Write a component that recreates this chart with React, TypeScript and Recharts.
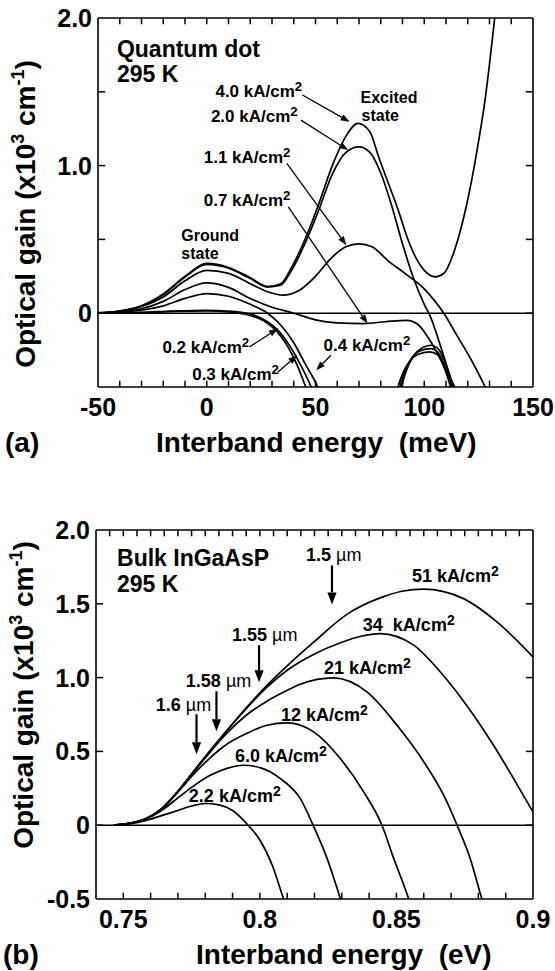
import React from 'react'
import { LineChart, Line, XAxis, YAxis, ReferenceLine, ReferenceDot } from 'recharts'

type Pt = [number, number]

// (a) quantum dot, interband energy in meV, gain in 10^3 cm^-1
const qd40: Pt[] = [[-50, 0.003], [-40, 0.015], [-30, 0.05], [-20, 0.13], [-10, 0.25], [0, 0.337], [10, 0.31], [20, 0.24], [28, 0.18], [34, 0.2], [39, 0.31], [46, 0.53], [51, 0.72], [58, 1.01], [64, 1.2], [69.5, 1.286], [75, 1.23], [79, 1.06], [84, 0.86], [88, 0.7], [92, 0.52], [96, 0.38], [100, 0.29], [105, 0.246], [109, 0.27], [114, 0.43], [120, 0.77], [124, 1.08], [128, 1.45], [132.4, 2.0], [135, 2.35]]
const qd20: Pt[] = [[-50, 0.003], [-40, 0.015], [-30, 0.048], [-20, 0.125], [-10, 0.245], [0, 0.33], [10, 0.305], [20, 0.235], [28, 0.178], [34, 0.19], [39, 0.29], [46, 0.5], [51, 0.68], [58, 0.95], [64, 1.09], [70, 1.127], [75, 1.09], [80, 0.95], [85, 0.73], [90, 0.47], [95, 0.24], [100, 0.06], [103, -0.03], [107, -0.2], [110, -0.34], [113.5, -0.5], [116, -0.62]]
const qd11: Pt[] = [[-50, 0.003], [-40, 0.013], [-30, 0.045], [-20, 0.11], [-10, 0.22], [0, 0.29], [10, 0.27], [20, 0.2], [28, 0.145], [35, 0.122], [42, 0.15], [50, 0.25], [57, 0.37], [64, 0.45], [70, 0.47], [76, 0.45], [83, 0.36], [92, 0.26], [100, 0.165], [105, 0.08], [109, 0], [115, -0.15], [121, -0.3], [128, -0.5], [131, -0.6]]
const qd07: Pt[] = [[-50, 0.002], [-40, 0.01], [-30, 0.03], [-20, 0.08], [-10, 0.16], [0, 0.205], [10, 0.175], [20, 0.1], [30, 0.04], [40, 0.0], [50, -0.045], [60, -0.065], [72, -0.07], [82, -0.058], [92, -0.048], [97, -0.075], [102, -0.17], [107, -0.3], [111, -0.42], [114, -0.5], [116, -0.58]]
const qd04: Pt[] = [[-50, 0.001], [-40, 0.006], [-30, 0.02], [-20, 0.05], [-10, 0.1], [0, 0.133], [10, 0.115], [20, 0.06], [28, 0.0], [34, -0.08], [40, -0.2], [45.5, -0.35], [51, -0.5], [53.5, -0.6], [70, -1.2], [88, -0.6], [91, -0.42], [95, -0.29], [99, -0.235], [103, -0.217], [106, -0.235], [110, -0.35], [113, -0.5], [115, -0.62]]
const qd03: Pt[] = [[-50, 0], [-30, 0.005], [-15, 0.015], [0, 0.02], [10, 0.015], [20, -0.005], [27, -0.05], [33, -0.12], [38.5, -0.23], [43.5, -0.36], [48, -0.5], [50.5, -0.6], [68, -1.2], [87, -0.6], [90, -0.44], [94, -0.31], [98, -0.255], [103, -0.24], [106, -0.26], [110, -0.38], [113, -0.52], [115, -0.62]]
const qd02: Pt[] = [[-50, 0], [-30, 0.004], [-15, 0.012], [0, 0.015], [10, 0.008], [20, -0.015], [26, -0.05], [32, -0.12], [37, -0.22], [41.5, -0.35], [45.5, -0.5], [48, -0.6], [66, -1.2], [86, -0.6], [89, -0.45], [93, -0.33], [97, -0.28], [102.5, -0.262], [106, -0.28], [110, -0.4], [112.5, -0.52], [114.5, -0.62]]

const qdTicksX = [-50, -40, -30, -20, -10, 0, 10, 20, 30, 40, 50, 60, 70, 80, 90, 100, 110, 120, 130, 140, 150]
const qdLabelsX = [-50, 0, 50, 100, 150]
const qdTicksY = [-0.5, 0, 0.5, 1, 1.5, 2]

// (b) bulk InGaAsP, interband energy in eV
const b22: Pt[] = [[0.7465, 0], [0.752, 0.008], [0.758, 0.03], [0.764, 0.065], [0.77, 0.1], [0.775, 0.13], [0.78, 0.147], [0.785, 0.138], [0.79, 0.1], [0.7957, 0], [0.8, -0.1], [0.8045, -0.27], [0.8087, -0.5], [0.811, -0.62]]
const b60: Pt[] = [[0.7465, 0], [0.752, 0.011], [0.758, 0.04], [0.764, 0.1], [0.77, 0.185], [0.776, 0.27], [0.782, 0.34], [0.788, 0.385], [0.794, 0.406], [0.8, 0.39], [0.8075, 0.316], [0.8148, 0.18], [0.8195, 0], [0.8246, -0.225], [0.8295, -0.5], [0.832, -0.65]]
const b12: Pt[] = [[0.7465, 0], [0.752, 0.012], [0.758, 0.042], [0.764, 0.11], [0.77, 0.225], [0.776, 0.35], [0.782, 0.46], [0.788, 0.55], [0.795, 0.62], [0.8026, 0.677], [0.81, 0.693], [0.8197, 0.632], [0.8295, 0.45], [0.838, 0.226], [0.8447, 0], [0.849, -0.225], [0.8545, -0.5], [0.857, -0.65]]
const b21: Pt[] = [[0.7465, 0], [0.752, 0.012], [0.758, 0.042], [0.764, 0.11], [0.77, 0.228], [0.776, 0.365], [0.782, 0.5], [0.788, 0.625], [0.795, 0.745], [0.8026, 0.84], [0.8075, 0.89], [0.8148, 0.955], [0.827, 0.998], [0.8392, 0.903], [0.8502, 0.677], [0.86, 0.43], [0.8673, 0.203], [0.8722, 0], [0.877, -0.225], [0.8813, -0.5], [0.884, -0.65]]
const b34: Pt[] = [[0.7465, 0], [0.752, 0.012], [0.758, 0.042], [0.764, 0.11], [0.77, 0.23], [0.776, 0.37], [0.782, 0.51], [0.788, 0.643], [0.795, 0.79], [0.8026, 0.935], [0.81, 1.05], [0.82, 1.16], [0.83, 1.24], [0.837, 1.28], [0.844, 1.298], [0.8563, 1.22], [0.866, 1.04], [0.8758, 0.81], [0.8856, 0.54], [0.8929, 0.316], [0.9, 0.09]]
const b51: Pt[] = [[0.7465, 0], [0.752, 0.012], [0.758, 0.042], [0.764, 0.11], [0.77, 0.23], [0.776, 0.37], [0.782, 0.51], [0.788, 0.643], [0.795, 0.795], [0.8026, 0.948], [0.81, 1.08], [0.8197, 1.24], [0.832, 1.43], [0.844, 1.54], [0.852, 1.585], [0.86, 1.6], [0.8746, 1.535], [0.8868, 1.377], [0.9, 1.14]]

const bulkTicksX = [0.74, 0.75, 0.76, 0.77, 0.78, 0.79, 0.8, 0.81, 0.82, 0.83, 0.84, 0.85, 0.86, 0.87, 0.88, 0.89, 0.9]
const bulkTicksTop = [0.74, 0.745, 0.75, 0.755, 0.76, 0.765, 0.77, 0.775, 0.78, 0.785, 0.79, 0.795, 0.8, 0.805, 0.81, 0.815, 0.82, 0.825, 0.83, 0.835, 0.84, 0.845, 0.85, 0.855, 0.86, 0.865, 0.87, 0.875, 0.88, 0.885, 0.89, 0.895, 0.9]
const bulkLabelsX = [0.75, 0.8, 0.85, 0.9]
const bulkTicksY = [-0.5, 0, 0.5, 1, 1.5, 2]

const FONT = '"Liberation Sans", Arial, Helvetica, sans-serif'
const rows = (pts: Pt[]) => pts.map(([x, y]) => ({ x, y }))

const frame = { stroke: '#000', strokeWidth: 1.6 }

const fmtQdX = (v: number) => (qdLabelsX.includes(v) ? String(v) : '')
const fmtQdY = (v: number) => (v === 0 ? '0' : v === 1 || v === 2 ? v.toFixed(1) : '')
const fmtBulkX = (v: number) => {
  const hit = bulkLabelsX.find((l) => Math.abs(l - v) < 1e-9)
  return hit === undefined ? '' : String(hit)
}
const fmtBulkY = (v: number) => (v === 0 ? '0' : v.toFixed(1))

const bottomLabel = (fmt: (v: number) => string) => (p: any) => (
  <text x={p.x} y={p.y + 29} textAnchor="middle" fontFamily={FONT} fontWeight="bold" fontSize={25} fill="#000">
    {fmt(p.payload.value)}
  </text>
)
const leftLabel = (fmt: (v: number) => string) => (p: any) => (
  <text x={p.x - 6} y={p.y + 9} textAnchor="end" fontFamily={FONT} fontWeight="bold" fontSize={25} fill="#000">
    {fmt(p.payload.value)}
  </text>
)

// inward tick marks; anchors sit a hair inside the frame so they count as in range
const tickShape = (dx: number, dy: number) => (p: any) => (
  <path d={`M${p.cx},${p.cy}l${dx},${dy}`} stroke="#000" strokeWidth={1.5} fill="none" />
)
const upTick = tickShape(0, -6)
const downTick = tickShape(0, 6)
const rightwardTick = tickShape(7, 0)
const leftwardTick = tickShape(-7, 0)

const tickMarks = (bottom: number[], top: number[], side: number[], xMin: number, xMax: number, nudgeX: number) => {
  const nudgeY = 0.002
  const innerX = (t: number) => t > xMin + nudgeX && t < xMax - nudgeX
  const innerY = (t: number) => t > -0.5 + nudgeY && t < 2 - nudgeY
  return [
    ...bottom.filter(innerX).map((t) => <ReferenceDot key={`b${t}`} x={t} y={-0.5 + nudgeY} r={0} shape={upTick} />),
    ...top.filter(innerX).map((t) => <ReferenceDot key={`t${t}`} x={t} y={2 - nudgeY} r={0} shape={downTick} />),
    ...side.filter(innerY).map((t) => <ReferenceDot key={`l${t}`} x={xMin + nudgeX} y={t} r={0} shape={rightwardTick} />),
    ...side.filter(innerY).map((t) => <ReferenceDot key={`r${t}`} x={xMax - nudgeX} y={t} r={0} shape={leftwardTick} />),
  ]
}

const makeArrow = (len: number, half: number, width: number) => (p: any) => {
  const { x1, y1, x2, y2 } = p
  const a = Math.atan2(y2 - y1, x2 - x1)
  const bx = x2 - len * Math.cos(a)
  const by = y2 - len * Math.sin(a)
  const pts = `${x2},${y2} ${bx + half * Math.sin(a)},${by - half * Math.cos(a)} ${bx - half * Math.sin(a)},${by + half * Math.cos(a)}`
  return (
    <g>
      <line x1={x1} y1={y1} x2={bx} y2={by} stroke="#000" strokeWidth={width} />
      <polygon points={pts} fill="#000" />
    </g>
  )
}
const thinArrow = makeArrow(9, 3.3, 1.3)
const boldArrow = makeArrow(12, 4.6, 2.2)

const words = (text: string, size = 16) => (p: any) => (
  <text x={p.cx} y={p.cy} fontFamily={FONT} fontWeight="bold" fontSize={size} fill="#000" style={{ whiteSpace: 'pre' }}>
    {text}
  </text>
)

const current = (v: string, size: number) => (p: any) => (
  <text x={p.cx} y={p.cy} fontFamily={FONT} fontWeight="bold" fontSize={size} fill="#000" style={{ whiteSpace: 'pre' }}>
    {v} kA/cm<tspan dy={-6} fontSize={size * 0.78}>2</tspan>
  </text>
)

const wavelength = (v: string) => (p: any) => (
  <text x={p.cx} y={p.cy} fontFamily={FONT} fontWeight="bold" fontSize={18} fill="#000">
    {v} <tspan fontWeight="normal">µm</tspan>
  </text>
)

const yTitle = (cy: number) => (p: any) => {
  const vb = p.viewBox
  const x = vb.x + vb.width - 63
  const y = vb.y + cy
  return (
    <text x={x} y={y} transform={`rotate(-90 ${x} ${y})`} textAnchor="middle" fontFamily={FONT} fontWeight="bold" fontSize={28} fill="#000">
      Optical gain (x10<tspan dy={-11} fontSize={18}>3</tspan>
      <tspan dy={11}> cm</tspan>
      <tspan dy={-11} fontSize={18}>-1</tspan>
      <tspan dy={11}>)</tspan>
    </text>
  )
}

const xTitle = (text: string, tag: string, dx: number) => (p: any) => {
  const vb = p.viewBox
  const y = vb.y + 65
  return (
    <g fontFamily={FONT} fontWeight="bold" fontSize={28} fill="#000">
      <text x={vb.x + dx} y={y} style={{ whiteSpace: 'pre' }}>{text}</text>
      <text x={vb.x - 93} y={y}>{tag}</text>
    </g>
  )
}

const curve = (pts: Pt[], key: string) => (
  <Line key={key} data={rows(pts)} dataKey="y" type="monotone" stroke="#000" strokeWidth={1.7} dot={false} activeDot={false} isAnimationActive={false} />
)

function QuantumDot() {
  return (
    <LineChart width={555} height={480} margin={{ top: 8, right: 12, bottom: 53, left: 38 }}>
      <XAxis dataKey="x" type="number" domain={[-50, 150]} allowDataOverflow ticks={qdTicksX} interval={0}
        tick={bottomLabel(fmtQdX)} tickLine={false} tickSize={0} tickMargin={0} height={40} axisLine={frame}
        label={xTitle('Interband energy  (meV)', '(a)', 58)} />
      <XAxis xAxisId="top" orientation="top" dataKey="x" type="number" domain={[-50, 150]} allowDataOverflow
        tick={false} tickLine={false} height={10} axisLine={frame} />
      <YAxis type="number" domain={[-0.5, 2]} allowDataOverflow ticks={qdTicksY} interval={0}
        tick={leftLabel(fmtQdY)} tickLine={false} tickSize={0} tickMargin={0} width={60} axisLine={frame} label={yTitle(196)} />
      <YAxis yAxisId="right" orientation="right" type="number" domain={[-0.5, 2]} allowDataOverflow
        tick={false} tickLine={false} width={10} axisLine={frame} />

      <ReferenceLine y={0} stroke="#000" strokeWidth={1.5} />
      {curve(qd40, 'qd40')}
      {curve(qd20, 'qd20')}
      {curve(qd11, 'qd11')}
      {curve(qd07, 'qd07')}
      {curve(qd04, 'qd04')}
      {curve(qd03, 'qd03')}
      {curve(qd02, 'qd02')}

      <ReferenceDot x={-41.3} y={1.736} r={0} shape={words('Quantum dot', 23)} />
      <ReferenceDot x={-41.3} y={1.566} r={0} shape={words('295 K', 23)} />
      <ReferenceDot x={4.0} y={1.464} r={0} shape={current('4.0', 17)} />
      <ReferenceDot x={1.9} y={1.298} r={0} shape={current('2.0', 17)} />
      <ReferenceDot x={-1.4} y={1.017} r={0} shape={current('1.1', 17)} />
      <ReferenceDot x={-1.4} y={0.725} r={0} shape={current('0.7', 17)} />
      <ReferenceDot x={-20.4} y={-0.271} r={0} shape={current('0.2', 17)} />
      <ReferenceDot x={-6.7} y={-0.454} r={0} shape={current('0.3', 17)} />
      <ReferenceDot x={53.7} y={-0.258} r={0} shape={current('0.4', 17)} />
      <ReferenceDot x={70.7} y={1.424} r={0} shape={words('Excited')} />
      <ReferenceDot x={71.2} y={1.305} r={0} shape={words('state')} />
      <ReferenceDot x={-11.7} y={0.492} r={0} shape={words('Ground')} />
      <ReferenceDot x={-11.7} y={0.368} r={0} shape={words('state')} />

      <ReferenceLine segment={[{ x: 44.0, y: 1.478 }, { x: 65.7, y: 1.297 }]} shape={thinArrow} />
      <ReferenceLine segment={[{ x: 43.3, y: 1.308 }, { x: 65.0, y: 1.105 }]} shape={thinArrow} />
      <ReferenceLine segment={[{ x: 36.8, y: 1.015 }, { x: 64.2, y: 0.461 }]} shape={thinArrow} />
      <ReferenceLine segment={[{ x: 37.5, y: 0.721 }, { x: 73.9, y: -0.07 }]} shape={thinArrow} />
      <ReferenceLine segment={[{ x: 19.7, y: -0.228 }, { x: 32.7, y: -0.104 }]} shape={thinArrow} />
      <ReferenceLine segment={[{ x: 32.7, y: -0.398 }, { x: 41.6, y: -0.285 }]} shape={thinArrow} />
      <ReferenceLine segment={[{ x: 57.1, y: -0.285 }, { x: 50.3, y: -0.386 }]} shape={thinArrow} />

      {tickMarks(qdTicksX, qdTicksX, qdTicksY, -50, 150, 0.1)}
    </LineChart>
  )
}

function Bulk() {
  return (
    <LineChart width={555} height={491} margin={{ top: 40, right: 12, bottom: 32, left: 36 }}>
      <XAxis dataKey="x" type="number" domain={[0.74, 0.9]} allowDataOverflow ticks={bulkTicksX} interval={0}
        tick={bottomLabel(fmtBulkX)} tickLine={false} tickSize={0} tickMargin={0} height={40} axisLine={frame}
        label={xTitle('Interband energy  (eV)', '(b)', 100)} />
      <XAxis xAxisId="top" orientation="top" dataKey="x" type="number" domain={[0.74, 0.9]} allowDataOverflow
        tick={false} tickLine={false} height={10} axisLine={frame} />
      <YAxis type="number" domain={[-0.5, 2]} allowDataOverflow ticks={bulkTicksY} interval={0}
        tick={leftLabel(fmtBulkY)} tickLine={false} tickSize={0} tickMargin={0} width={60} axisLine={frame} label={yTitle(165)} />
      <YAxis yAxisId="right" orientation="right" type="number" domain={[-0.5, 2]} allowDataOverflow
        tick={false} tickLine={false} width={10} axisLine={frame} />

      <ReferenceLine y={0} stroke="#000" strokeWidth={1.5} />
      {curve(b51, 'b51')}
      {curve(b34, 'b34')}
      {curve(b21, 'b21')}
      {curve(b12, 'b12')}
      {curve(b60, 'b60')}
      {curve(b22, 'b22')}

      <ReferenceDot x={0.7477} y={1.754} r={0} shape={words('Bulk InGaAsP', 23)} />
      <ReferenceDot x={0.7477} y={1.578} r={0} shape={words('295 K', 23)} />
      <ReferenceDot x={0.8557} y={1.645} r={0} shape={current('51', 18)} />
      <ReferenceDot x={0.8377} y={1.317} r={0} shape={current('34 ', 18)} />
      <ReferenceDot x={0.8235} y={1.022} r={0} shape={current('21', 18)} />
      <ReferenceDot x={0.8077} y={0.706} r={0} shape={current('12', 18)} />
      <ReferenceDot x={0.7909} y={0.427} r={0} shape={current('6.0', 18)} />
      <ReferenceDot x={0.774} y={0.156} r={0} shape={current('2.2', 18)} />
      <ReferenceDot x={0.8169} y={1.787} r={0} shape={wavelength('1.5')} />
      <ReferenceDot x={0.7898} y={1.248} r={0} shape={wavelength('1.55')} />
      <ReferenceDot x={0.7729} y={0.934} r={0} shape={wavelength('1.58')} />
      <ReferenceDot x={0.7619} y={0.774} r={0} shape={wavelength('1.6')} />

      <ReferenceLine segment={[{ x: 0.8264, y: 1.76 }, { x: 0.8264, y: 1.496 }]} shape={boldArrow} />
      <ReferenceLine segment={[{ x: 0.7997, y: 1.219 }, { x: 0.7997, y: 0.968 }]} shape={boldArrow} />
      <ReferenceLine segment={[{ x: 0.7841, y: 0.907 }, { x: 0.7841, y: 0.636 }]} shape={boldArrow} />
      <ReferenceLine segment={[{ x: 0.7768, y: 0.752 }, { x: 0.7768, y: 0.481 }]} shape={boldArrow} />

      {tickMarks(bulkTicksX, bulkTicksTop, bulkTicksY, 0.74, 0.9, 0.00005)}
    </LineChart>
  )
}

export default function App() {
  return (
    <div style={{ position: 'absolute', left: 0, top: 0, width: 555, height: 971, background: '#fff' }}>
      <div style={{ position: 'absolute', left: 0, top: 0 }}>
        <QuantumDot />
      </div>
      <div style={{ position: 'absolute', left: 0, top: 480 }}>
        <Bulk />
      </div>
    </div>
  )
}
